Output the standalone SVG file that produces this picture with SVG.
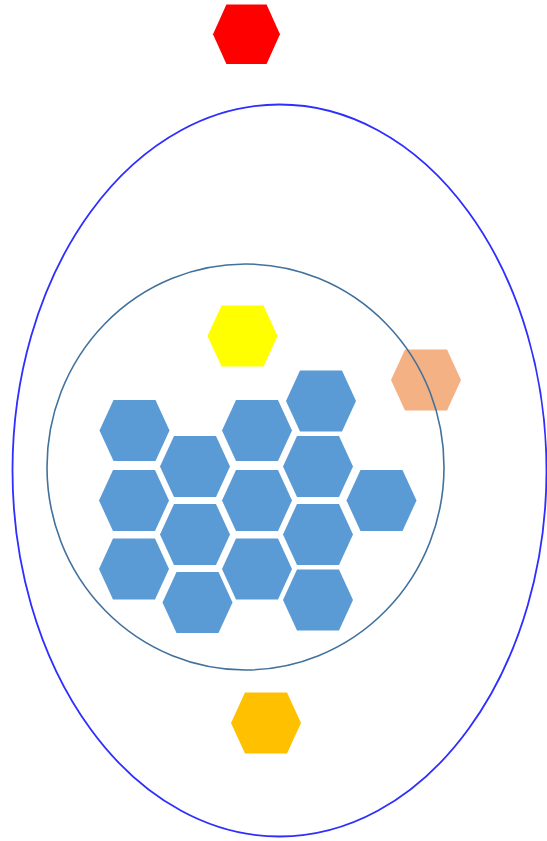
<svg xmlns="http://www.w3.org/2000/svg" xmlns:xlink="http://www.w3.org/1999/xlink" width="547" height="841" viewBox="0 0 547 841">
<style>
.blue{fill:#5B9BD5}
.ring{fill:none}
</style>
<defs>
<path id="hex" d="M0,30.5 L14,0 L56,0 L70,30.5 L56,61 L14,61 Z"/>
</defs>
<rect width="547" height="841" fill="#ffffff"/>
<g id="red-hex"><use xlink:href="#hex" transform="translate(213,4.5) scale(0.957,0.975)" fill="#FF0000"/></g>
<g id="yellow-hex"><use xlink:href="#hex" x="207.5" y="305.5" fill="#FFFF00"/></g>
<g id="peach-hex"><use xlink:href="#hex" x="391" y="349.5" fill="#F4B183"/></g>
<g id="orange-hex"><use xlink:href="#hex" x="231" y="692.5" transform="translate(0,0)" fill="#FFC000"/></g>
<g id="blue-hexes">
<g id="b1"><use xlink:href="#hex" class="blue" x="99.5" y="400"/></g>
<g id="b2"><use xlink:href="#hex" class="blue" x="99" y="470"/></g>
<g id="b3"><use xlink:href="#hex" class="blue" x="99" y="538.5"/></g>
<g id="b4"><use xlink:href="#hex" class="blue" x="160" y="436"/></g>
<g id="b5"><use xlink:href="#hex" class="blue" x="160" y="504"/></g>
<g id="b6"><use xlink:href="#hex" class="blue" x="162.5" y="572"/></g>
<g id="b7"><use xlink:href="#hex" class="blue" x="222" y="400"/></g>
<g id="b8"><use xlink:href="#hex" class="blue" x="222" y="470"/></g>
<g id="b9"><use xlink:href="#hex" class="blue" x="222" y="538.5"/></g>
<g id="b10"><use xlink:href="#hex" class="blue" x="286" y="370.5"/></g>
<g id="b11"><use xlink:href="#hex" class="blue" x="283" y="436"/></g>
<g id="b12"><use xlink:href="#hex" class="blue" x="283" y="504"/></g>
<g id="b13"><use xlink:href="#hex" class="blue" x="283" y="569.5"/></g>
<g id="b14"><use xlink:href="#hex" class="blue" x="346.5" y="470"/></g>
</g>
<g id="outer-ellipse"><ellipse class="ring" cx="279.5" cy="470.5" rx="267" ry="366" stroke="#2E2EFF" stroke-width="1.8"/></g>
<g id="inner-circle"><ellipse class="ring" cx="245.5" cy="467" rx="198.5" ry="203" stroke="#41719C" stroke-width="1.6"/></g>
</svg>
